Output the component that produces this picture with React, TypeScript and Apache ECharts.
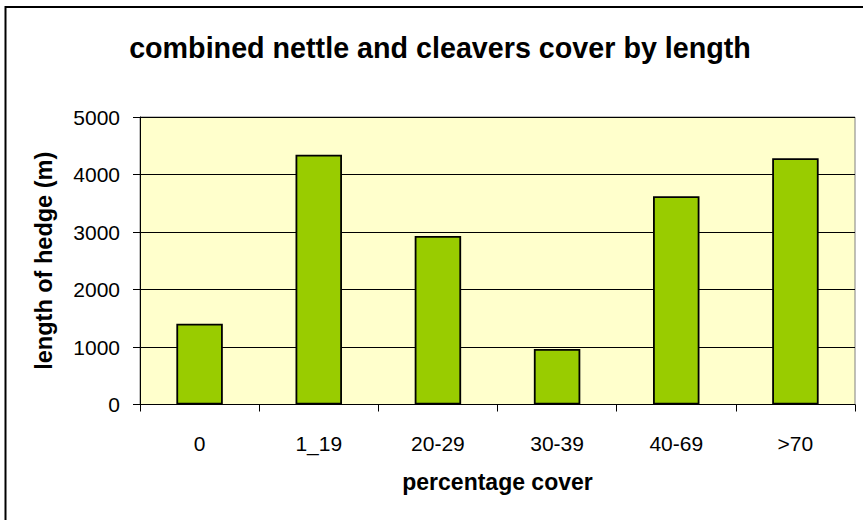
import React, { useEffect, useRef } from "react";
import * as echarts from "echarts";

const categories = ["0", "1_19", "20-29", "30-39", "40-69", ">70"];
const lengths = [1405, 4344, 2930, 965, 3621, 4282];
const yTicks = { min: 0, max: 5000, interval: 1000 };

const FONT = "'Liberation Sans', Arial, sans-serif";

export default function App() {
  const ref = useRef<HTMLDivElement>(null);
  useEffect(() => {
    if (!ref.current) return;
    const chart = echarts.init(ref.current, undefined, { renderer: "svg" });
    chart.setOption({
      animation: false,
      backgroundColor: "#ffffff",
      title: {
        text: "combined nettle and cleavers cover by length",
        left: 435,
        top: 28,
        textAlign: "center",
        textStyle: { fontFamily: FONT, fontWeight: "bold", fontSize: 28.7, color: "#000" },
      },
      graphic: [
        {
          type: "rect",
          shape: { x: 5.5, y: 7, width: 1000, height: 1000 },
          style: { fill: "none", stroke: "#000", lineWidth: 2 },
          silent: true,
        },
      ],
      grid: {
        left: 140,
        top: 117,
        right: 8,
        bottom: 115.5,
        show: true,
        backgroundColor: "#FFFFCC",
        borderColor: "#808080",
        borderWidth: 1,
      },
      xAxis: {
        type: "category",
        data: categories,
        boundaryGap: true,
        name: "percentage cover",
        nameLocation: "middle",
        nameGap: 66,
        nameTextStyle: { fontFamily: FONT, fontWeight: "bold", fontSize: 23, color: "#000" },
        axisLine: { show: true, lineStyle: { color: "#000", width: 1 } },
        axisTick: { show: true, alignWithLabel: false, length: 7, lineStyle: { color: "#000" } },
        axisLabel: { fontFamily: FONT, fontSize: 21, color: "#000", margin: 28 },
        splitLine: { show: false },
      },
      yAxis: {
        type: "value",
        min: yTicks.min,
        max: yTicks.max,
        interval: yTicks.interval,
        name: "length of hedge (m)",
        nameLocation: "middle",
        nameGap: 84,
        nameTextStyle: { fontFamily: FONT, fontWeight: "bold", fontSize: 23.5, color: "#000" },
        axisLine: { show: true, lineStyle: { color: "#000", width: 1 } },
        axisTick: { show: true, length: 7, lineStyle: { color: "#000" } },
        axisLabel: {
          fontFamily: FONT,
          fontSize: 21,
          color: "#000",
          margin: 20,
          formatter: (v: number) => String(v),
        },
        splitLine: { show: true, lineStyle: { color: "#000", width: 1 } },
      },
      series: [
        {
          type: "bar",
          data: lengths,
          barWidth: "39%",
          itemStyle: { color: "#99CC00", borderColor: "#000", borderWidth: 1.8 },
        },
      ],
    });
    return () => chart.dispose();
  }, []);
  return (
    <div
      ref={ref}
      style={{ position: "fixed", left: 0, top: 0, width: 863, height: 520 }}
    />
  );
}
